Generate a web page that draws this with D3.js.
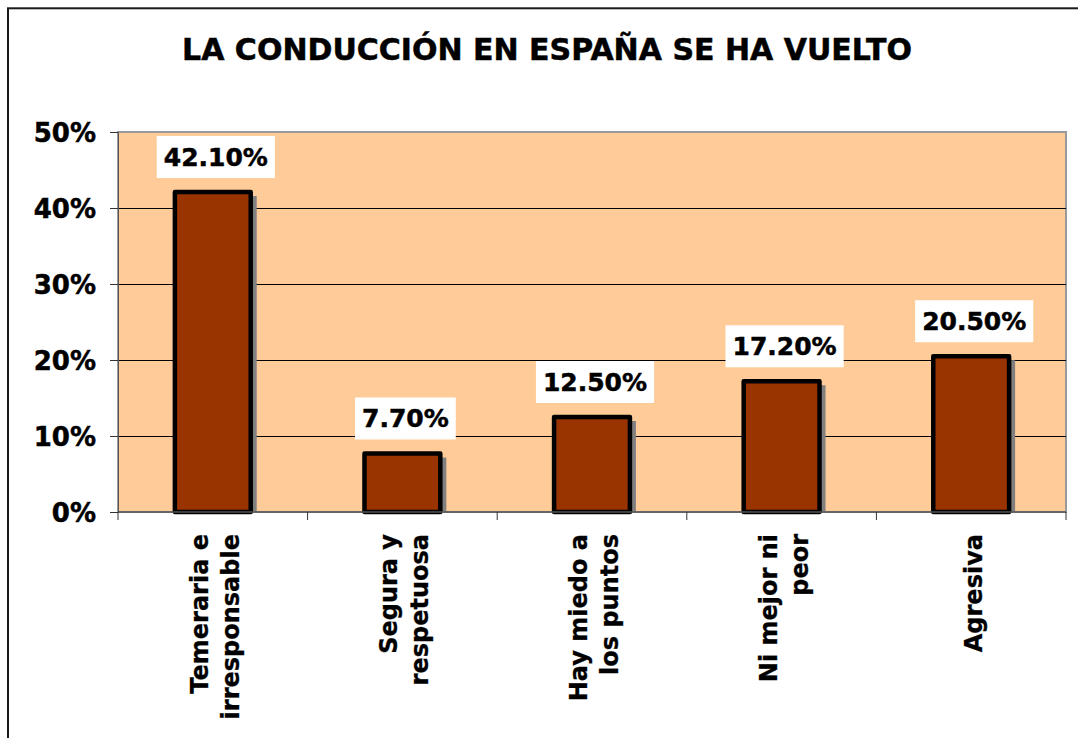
<!DOCTYPE html>
<html>
<head>
<meta charset="utf-8">
<script src="https://cdn.jsdelivr.net/npm/d3@7"></script>
<style>
  body { margin: 0; background: #fff; }
  svg { display: block; font-family: 'DejaVu Sans', Verdana, sans-serif; }
</style>
</head>
<body>
<div class="chart"></div>
<script>
const title = 'LA CONDUCCIÓN EN ESPAÑA SE HA VUELTO'

const categories = [
  ['Temeraria e', 'irresponsable'],
  ['Segura y', 'respetuosa'],
  ['Hay miedo a', 'los puntos'],
  ['Ni mejor ni', 'peor'],
  ['Agresiva']
]
const values = [42.1, 7.7, 12.5, 17.2, 20.5]
const valueLabels = ['42.10%', '7.70%', '12.50%', '17.20%', '20.50%']
const yTicks = [0, 10, 20, 30, 40, 50]

const width = 1078
const height = 738
const plot = { left: 118, right: 1066, top: 132, bottom: 512 }

const svg = d3.select('.chart')
  .append('svg')
  .attr('width', width)
  .attr('height', height)

// outer chart frame (runs off the right and bottom edges)
svg.append('rect')
  .attr('x', 8).attr('y', 8.3)
  .attr('width', 1100).attr('height', 800)
  .attr('fill', 'none')
  .attr('stroke', '#1a1a1a')
  .attr('stroke-width', 2)

svg.append('text')
  .attr('x', 547)
  .attr('y', 60)
  .attr('text-anchor', 'middle')
  .attr('font-size', 30)
  .attr('font-weight', 'bold')
  .attr('stroke', '#000')
  .attr('stroke-width', 0.5)
  .text(title)

const x = d3.scaleBand()
  .domain(d3.range(categories.length))
  .range([plot.left, plot.right])
  .paddingInner(0.6)
  .paddingOuter(0.3)

const y = d3.scaleLinear()
  .domain([0, 50])
  .range([plot.bottom, plot.top])

svg.append('rect')
  .attr('x', plot.left).attr('y', plot.top)
  .attr('width', plot.right - plot.left)
  .attr('height', plot.bottom - plot.top)
  .attr('fill', '#FFCC99')
  .attr('stroke', '#999')
  .attr('stroke-width', 2)

svg.append('g')
  .selectAll('line')
  .data(yTicks.slice(1, -1))
  .join('line')
    .attr('x1', plot.left).attr('x2', plot.right)
    .attr('y1', d => y(d) + 0.5).attr('y2', d => y(d) + 0.5)
    .attr('stroke', '#000')
    .attr('stroke-width', 1)
    .attr('shape-rendering', 'crispEdges')

svg.append('clipPath')
  .attr('id', 'plot-clip')
  .append('rect')
    .attr('x', plot.left).attr('y', plot.top)
    .attr('width', plot.right - plot.left)
    .attr('height', plot.bottom - plot.top)

// bar shadows
svg.append('g')
  .attr('clip-path', 'url(#plot-clip)')
  .selectAll('rect')
  .data(values)
  .join('rect')
    .attr('x', (d, i) => x(i) + 6)
    .attr('y', d => y(d) + 4)
    .attr('width', x.bandwidth())
    .attr('height', d => y(0) - y(d))
    .attr('fill', '#808080')

svg.append('g')
  .selectAll('rect')
  .data(values)
  .join('rect')
    .attr('x', (d, i) => x(i))
    .attr('y', d => y(d))
    .attr('width', x.bandwidth())
    .attr('height', d => y(0) - y(d))
    .attr('fill', '#993300')
    .attr('stroke', '#000')
    .attr('stroke-width', 4.5)
    .attr('stroke-linejoin', 'round')

// y axis
const yAxis = d3.axisLeft(y)
  .tickValues(yTicks)
  .tickFormat(d => d + '%')
  .tickSize(8)
  .tickPadding(14)

const yAxisG = svg.append('g')
  .attr('transform', `translate(${plot.left}, 0)`)
  .call(yAxis)

yAxisG.select('.domain').attr('stroke', '#555')
yAxisG.selectAll('.tick line').attr('stroke', '#333')
yAxisG.selectAll('.tick text')
  .attr('font-family', "'DejaVu Sans', Verdana, sans-serif")
  .attr('font-size', 26)
  .attr('font-weight', 'bold')
  .attr('fill', '#000')
  .attr('stroke', '#000')
  .attr('stroke-width', 0.5)
  .attr('dy', '0.36em')

// x axis line and boundary ticks
svg.append('line')
  .attr('x1', plot.left).attr('x2', plot.right)
  .attr('y1', plot.bottom).attr('y2', plot.bottom)
  .attr('stroke', '#555')
  .attr('stroke-width', 1.5)

svg.append('g')
  .selectAll('line')
  .data(d3.range(categories.length + 1))
  .join('line')
    .attr('x1', i => plot.left + i * x.step())
    .attr('x2', i => plot.left + i * x.step())
    .attr('y1', plot.bottom)
    .attr('y2', plot.bottom + 8)
    .attr('stroke', '#333')

// category labels, rotated
const catLabels = svg.append('g')
  .selectAll('text')
  .data(categories)
  .join('text')
    .attr('transform', (d, i) => `translate(${x(i) + x.bandwidth() / 2}, 534) rotate(-90)`)
    .attr('text-anchor', 'end')
    .attr('font-size', 24)
    .attr('font-weight', 'bold')
    .attr('stroke', '#000')
    .attr('stroke-width', 0.3)

catLabels.selectAll('tspan')
  .data(d => d.map((line, j) => ({ line, j, n: d.length })))
  .join('tspan')
    .attr('x', 0)
    .attr('y', d => (d.j - (d.n - 1) / 2) * 31 + 10.5)
    .text(d => d.line)

// value labels in white boxes
const labels = svg.append('g')
  .selectAll('g')
  .data(values)
  .join('g')
    .attr('transform', (d, i) => `translate(${x(i) + x.bandwidth() / 2 + 3}, ${y(d) - 35})`)

labels.append('text')
  .attr('text-anchor', 'middle')
  .attr('dy', '0.36em')
  .attr('font-size', 25)
  .attr('font-weight', 'bold')
  .attr('stroke', '#000')
  .attr('stroke-width', 0.5)
  .text((d, i) => valueLabels[i])

labels.each(function () {
  const g = d3.select(this)
  const w = g.select('text').node().getComputedTextLength()
  g.insert('rect', 'text')
    .attr('x', -w / 2 - 7)
    .attr('y', -21)
    .attr('width', w + 14)
    .attr('height', 42)
    .attr('fill', '#fff')
})
</script>
</body>
</html>
